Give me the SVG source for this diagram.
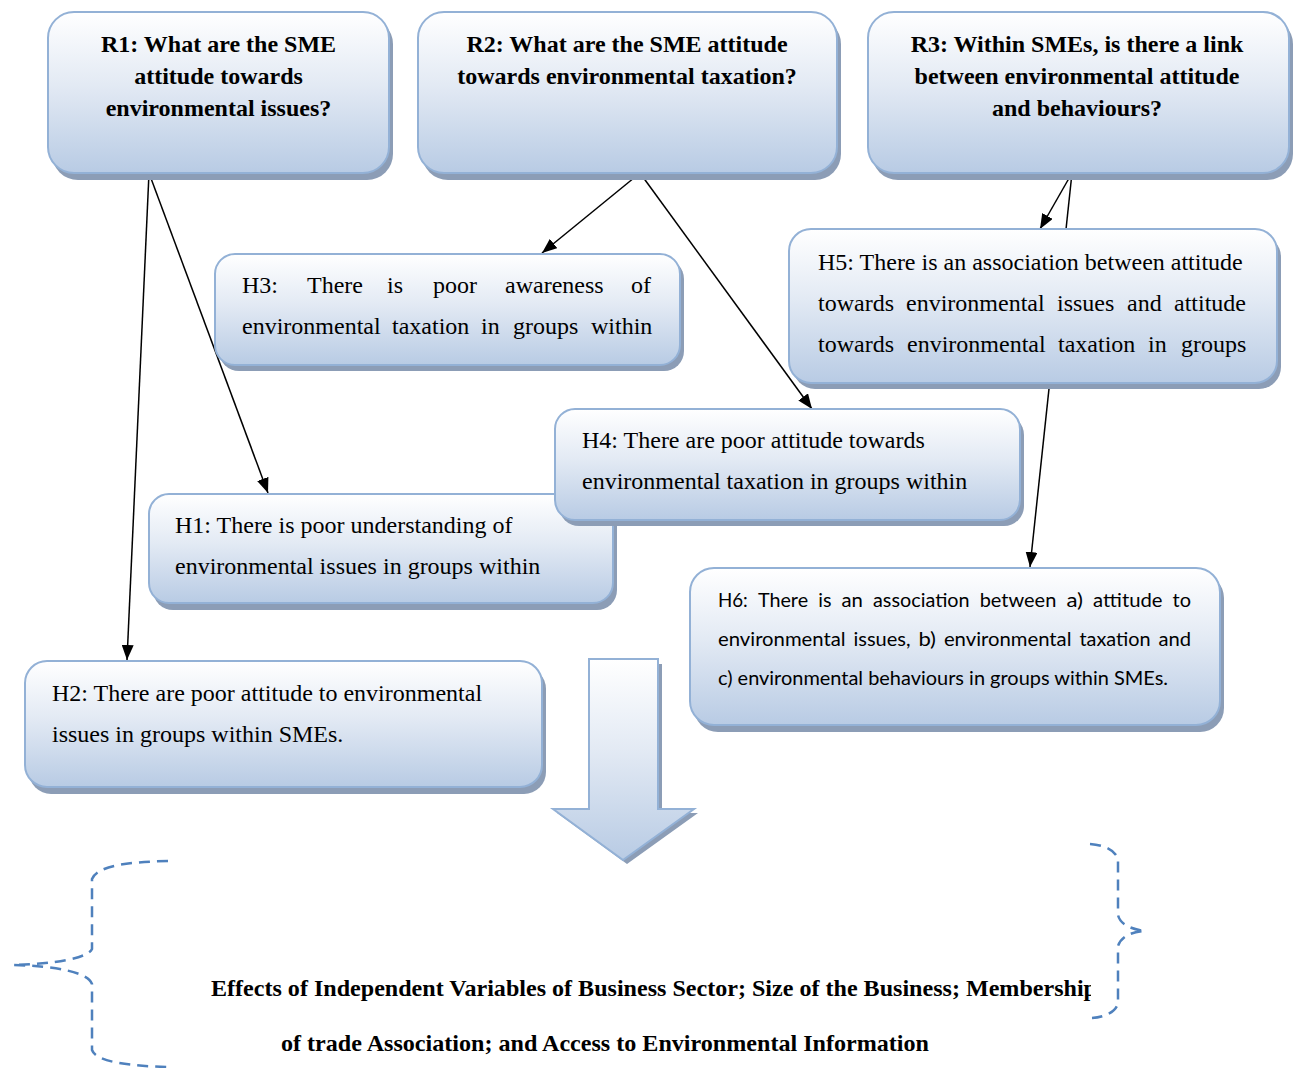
<svg xmlns="http://www.w3.org/2000/svg" width="1299" height="1068" viewBox="0 0 1299 1068">
  <defs>
    <linearGradient id="boxFill" x1="0" y1="0" x2="0" y2="1">
      <stop offset="0" stop-color="#ffffff"/>
      <stop offset="0.45" stop-color="#e3eaf4"/>
      <stop offset="1" stop-color="#b8cbe4"/>
    </linearGradient>
    <marker id="arrow" markerUnits="userSpaceOnUse" markerWidth="16" markerHeight="12" refX="15" refY="6" orient="auto">
      <path d="M0,0 L15,6 L0,12 z" fill="#000"/>
    </marker>
    <clipPath id="footClip">
      <rect x="0" y="940" width="1091" height="128"/>
    </clipPath>
  </defs>
  <style>
    .shadow { fill: #8c9db6; }
    .box { fill: url(#boxFill); stroke: #93b1d6; stroke-width: 2; }
    .q { font-family: "Liberation Serif", "Times New Roman", serif; font-weight: bold; font-size: 24px; fill: #000; text-anchor: middle; }
    .h { font-family: "Liberation Serif", "Times New Roman", serif; font-size: 24px; fill: #000; }
    .s { font-family: Lato, "Noto Sans", sans-serif; font-size: 19.5px; fill: #000; }
    .link { stroke: #000; stroke-width: 1.5; fill: none; marker-end: url(#arrow); }
    .brace { stroke: #4f81bd; stroke-width: 2.5; fill: none; stroke-dasharray: 11 7; }
    .foot { font-family: "Liberation Serif", "Times New Roman", serif; font-weight: bold; font-size: 24px; fill: #000; }
  </style>

  <rect width="1299" height="1068" fill="#ffffff"/>

  <!-- connectors (drawn beneath the boxes) -->
  <g id="connectors">
    <line class="link" x1="149" y1="173" x2="268" y2="493"/>
    <line class="link" x1="149" y1="173" x2="127" y2="660"/>
    <line class="link" x1="640" y1="173" x2="542" y2="253"/>
    <line class="link" x1="640" y1="173" x2="812" y2="409"/>
    <line class="link" x1="1072" y1="173" x2="1040" y2="229"/>
    <line class="link" x1="1072" y1="173" x2="1030" y2="567"/>
  </g>

  <!-- research questions -->
  <g id="R1">
    <rect class="shadow" x="52" y="18" width="341" height="162" rx="26"/>
    <rect class="box" x="48" y="12" width="341" height="161" rx="26"/>
    <text class="q" x="218.5" y="52">R1: What are the SME</text>
    <text class="q" x="218.5" y="84">attitude towards</text>
    <text class="q" x="218.5" y="116">environmental issues?</text>
  </g>
  <g id="R2">
    <rect class="shadow" x="422" y="18" width="419" height="162" rx="26"/>
    <rect class="box" x="418" y="12" width="419" height="161" rx="26"/>
    <text class="q" x="627" y="52">R2: What are the SME attitude</text>
    <text class="q" x="627" y="84">towards environmental taxation?</text>
  </g>
  <g id="R3">
    <rect class="shadow" x="872" y="18" width="421" height="162" rx="26"/>
    <rect class="box" x="868" y="12" width="421" height="161" rx="26"/>
    <text class="q" x="1077" y="52">R3: Within SMEs, is there a link</text>
    <text class="q" x="1077" y="84">between environmental attitude</text>
    <text class="q" x="1077" y="116">and behaviours?</text>
  </g>

  <!-- hypotheses -->
  <g id="H3">
    <rect class="shadow" x="219" y="259" width="465" height="112" rx="20"/>
    <rect class="box" x="215" y="254" width="465" height="111" rx="20"/>
    <text class="h" y="293"><tspan x="242">H3:</tspan><tspan x="307">There</tspan><tspan x="387">is</tspan><tspan x="433">poor</tspan><tspan x="505">awareness</tspan><tspan x="631">of</tspan></text>
    <text class="h" y="334"><tspan x="242">environmental</tspan><tspan x="392">taxation</tspan><tspan x="481">in</tspan><tspan x="513">groups</tspan><tspan x="591">within</tspan></text>
  </g>
  <g id="H5">
    <rect class="shadow" x="793" y="235" width="488" height="154" rx="22"/>
    <rect class="box" x="789" y="229" width="488" height="154" rx="22"/>
    <text class="h" x="818" y="270">H5: There is an association between attitude</text>
    <text class="h" y="311"><tspan x="818">towards</tspan><tspan x="906">environmental</tspan><tspan x="1057">issues</tspan><tspan x="1127">and</tspan><tspan x="1174">attitude</tspan></text>
    <text class="h" y="352"><tspan x="818">towards</tspan><tspan x="907">environmental</tspan><tspan x="1058">taxation</tspan><tspan x="1148">in</tspan><tspan x="1181">groups</tspan></text>
  </g>
  <g id="H1">
    <rect class="shadow" x="153" y="500" width="464" height="110" rx="20"/>
    <rect class="box" x="149" y="494" width="464" height="109" rx="20"/>
    <text class="h" x="175" y="533">H1: There is poor understanding of</text>
    <text class="h" x="175" y="574">environmental issues in groups within</text>
  </g>
  <g id="H4">
    <rect class="shadow" x="559" y="415" width="465" height="111" rx="20"/>
    <rect class="box" x="555" y="409" width="465" height="111" rx="20"/>
    <text class="h" x="582" y="448">H4: There are poor attitude towards</text>
    <text class="h" x="582" y="489">environmental taxation in groups within</text>
  </g>
  <g id="H6">
    <rect class="shadow" x="694" y="574" width="530" height="158" rx="24"/>
    <rect class="box" x="690" y="568" width="530" height="157" rx="24"/>
    <!-- justified lines: one text per word, each fitted to its width -->
    <g class="s" font-family="Lato, 'Noto Sans', sans-serif" font-size="19.5">
      <text x="718" y="607" textLength="29.8" lengthAdjust="spacingAndGlyphs">H6:</text>
      <text x="757.9" y="607" textLength="50.2" lengthAdjust="spacingAndGlyphs">There</text>
      <text x="818.2" y="607" textLength="13.2" lengthAdjust="spacingAndGlyphs">is</text>
      <text x="841.5" y="607" textLength="21.4" lengthAdjust="spacingAndGlyphs">an</text>
      <text x="873" y="607" textLength="96.6" lengthAdjust="spacingAndGlyphs">association</text>
      <text x="979.7" y="607" textLength="76.6" lengthAdjust="spacingAndGlyphs">between</text>
      <text x="1066.4" y="607" textLength="16.6" lengthAdjust="spacingAndGlyphs">a)</text>
      <text x="1093.1" y="607" textLength="69.4" lengthAdjust="spacingAndGlyphs">attitude</text>
      <text x="1172.6" y="607" textLength="18.4" lengthAdjust="spacingAndGlyphs">to</text>

      <text x="718" y="646" textLength="127.6" lengthAdjust="spacingAndGlyphs">environmental</text>
      <text x="853.5" y="646" textLength="57" lengthAdjust="spacingAndGlyphs">issues,</text>
      <text x="918.4" y="646" textLength="17.6" lengthAdjust="spacingAndGlyphs">b)</text>
      <text x="943.9" y="646" textLength="127.6" lengthAdjust="spacingAndGlyphs">environmental</text>
      <text x="1079.4" y="646" textLength="71.2" lengthAdjust="spacingAndGlyphs">taxation</text>
      <text x="1158.5" y="646" textLength="32.6" lengthAdjust="spacingAndGlyphs">and</text>

      <text x="718" y="685" textLength="450" lengthAdjust="spacingAndGlyphs">c) environmental behaviours in groups within SMEs.</text>
    </g>
  </g>
  <g id="H2">
    <rect class="shadow" x="29" y="667" width="517" height="127" rx="22"/>
    <rect class="box" x="25" y="661" width="517" height="126" rx="22"/>
    <text class="h" x="52" y="701">H2: There are poor attitude to environmental</text>
    <text class="h" x="52" y="742">issues in groups within SMEs.</text>
  </g>

  <!-- block arrow pointing down to the moderating variables -->
  <g id="downArrow">
    <polygon class="shadow" points="593,664 662,664 662,813 698,813 627,864 557,813 593,813"/>
    <polygon class="box" points="589,659 658,659 658,809 694,809 623,860 553,809 589,809"/>
  </g>

  <!-- dashed braces around the moderating variables -->
  <g id="braces">
    <path class="brace" d="M168,861 C130,862 98,865 92,879 L92,949 C88,958 55,964 13,965 C55,966 88,972 92,984 L92,1050 C96,1062 130,1066 168,1067"/>
    <path class="brace" d="M1090,844 C1104,845 1115,850 1118,859 L1118,915 C1120,924 1130,929 1145,931 C1130,932 1121,937 1118,946 L1118,1003 C1116,1012 1105,1017 1092,1018"/>
  </g>

  <g id="moderators">
    <text class="foot" x="211" y="996" textLength="886" lengthAdjust="spacingAndGlyphs" clip-path="url(#footClip)">Effects of Independent Variables of Business Sector; Size of the Business; Membership</text>
    <text class="foot" x="281" y="1051" textLength="648" lengthAdjust="spacingAndGlyphs">of trade Association; and Access to Environmental Information</text>
  </g>
</svg>
